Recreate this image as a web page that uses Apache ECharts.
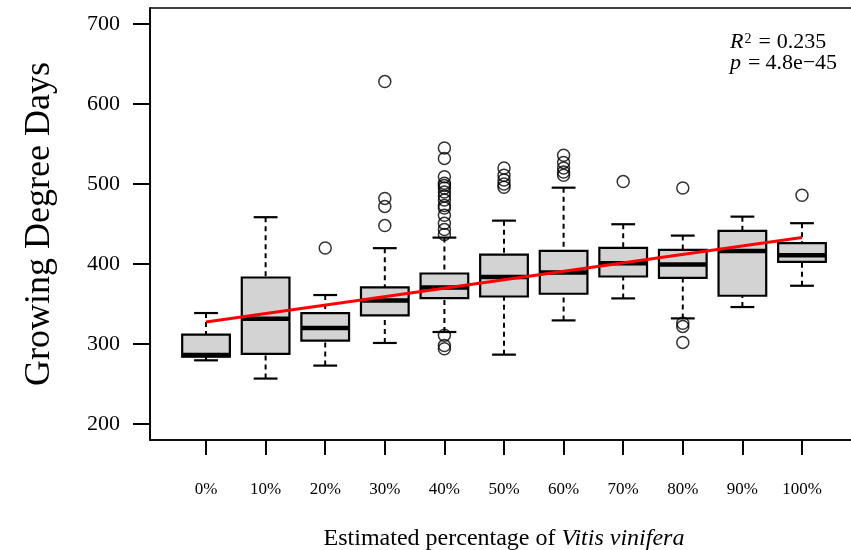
<!DOCTYPE html>
<html>
<head>
<meta charset="utf-8">
<script src="https://cdn.jsdelivr.net/npm/echarts@6/dist/echarts.min.js"></script>
<style>html,body{margin:0;padding:0;background:#fff;}#c{width:851px;height:550px;}</style>
</head>
<body>
<div id="c"></div>
<script>
// ---- data ----
const categories = ['0%','10%','20%','30%','40%','50%','60%','70%','80%','90%','100%'];
const whiskerLow  = [279.6, 256.8, 273.0, 301.3, 315.0, 286.7, 329.5, 357.0, 332.0, 346.2, 372.8];
const q1          = [284.2, 287.6, 304.2, 335.7, 357.4, 359.4, 362.8, 384.4, 382.7, 360.3, 402.7];
const median      = [286.3, 331.6, 320.0, 354.4, 370.7, 383.6, 389.4, 401.0, 399.4, 416.4, 411.0];
const q3          = [311.6, 383.1, 338.7, 370.7, 388.1, 411.8, 416.4, 420.2, 417.7, 441.4, 426.0];
const whiskerHigh = [338.7, 458.5, 361.2, 419.8, 433.0, 454.2, 495.4, 449.7, 435.5, 459.2, 451.0];
const outliers = [
  [],
  [],
  [420],
  [628, 482, 472, 448],
  [545, 532, 509, 501, 498, 495, 490, 485, 480, 473, 470, 461, 451, 443, 437, 311, 298, 294],
  [520, 511, 505, 500, 496],
  [536, 527, 520, 515, 511],
  [503],
  [495, 326, 322, 302],
  [],
  [486]
];
const fitStart = 327.5;   // fitted value at 0%
const fitEnd = 433.0;     // fitted value at 100%
const yTicks = [200, 300, 400, 500, 600, 700];
const annotR2 = '0.235';
const annotP = '4.8e\u221245';

// ---- build series data ----
const positions = categories.map((c, i) => i + 1);
const boxData = categories.map((c, i) => [positions[i], whiskerLow[i], q1[i], median[i], q3[i], whiskerHigh[i]]);
const outlierData = [];
outliers.forEach((arr, i) => arr.forEach(v => outlierData.push([positions[i], v])));
const fitData = [[positions[0], fitStart], [positions[positions.length - 1], fitEnd]];

const FONT = '"Liberation Serif", "DejaVu Serif", serif';

function renderBox(params, api) {
  const x = api.value(0);
  const pLo = api.coord([x, api.value(1)]);
  const pQ1 = api.coord([x, api.value(2)]);
  const pMed = api.coord([x, api.value(3)]);
  const pQ3 = api.coord([x, api.value(4)]);
  const pHi = api.coord([x, api.value(5)]);
  const bw = api.size([0.8, 0])[0];
  const cw = bw / 2;
  const cx = pMed[0];
  const dashStyle = { stroke: '#000', lineWidth: 2, lineDash: [5, 4] };
  const solid = { stroke: '#000', lineWidth: 2.2 };
  return {
    type: 'group',
    children: [
      { type: 'line', shape: { x1: cx, y1: pHi[1], x2: cx, y2: pQ3[1] }, style: dashStyle },
      { type: 'line', shape: { x1: cx, y1: pLo[1], x2: cx, y2: pQ1[1] }, style: dashStyle },
      { type: 'line', shape: { x1: cx - cw / 2, y1: pHi[1], x2: cx + cw / 2, y2: pHi[1] }, style: solid },
      { type: 'line', shape: { x1: cx - cw / 2, y1: pLo[1], x2: cx + cw / 2, y2: pLo[1] }, style: solid },
      { type: 'rect', shape: { x: cx - bw / 2, y: pQ3[1], width: bw, height: pQ1[1] - pQ3[1] },
        style: { fill: '#d3d3d3', stroke: '#000', lineWidth: 2.2 } },
      { type: 'line', shape: { x1: cx - bw / 2, y1: pMed[1], x2: cx + bw / 2, y2: pMed[1] },
        style: { stroke: '#000', lineWidth: 4.5 } }
    ]
  };
}

const chart = echarts.init(document.getElementById('c'), null, { renderer: 'canvas' });
chart.setOption({
  animation: false,
  backgroundColor: '#fff',
  title: {
    left: 725,
    top: 27,
    text: '{i|R}{sup|2}{eq|=}' + annotR2 + '\n{i|p}{eq2|=}' + annotP,
    textStyle: {
      fontFamily: FONT, fontSize: 22, fontWeight: 'normal', color: '#000', lineHeight: 21,
      rich: {
        i: { fontFamily: FONT, fontSize: 22, fontStyle: 'italic', color: '#000', lineHeight: 21 },
        sup: { fontFamily: FONT, fontSize: 14, color: '#000', verticalAlign: 'top', lineHeight: 21, padding: [0, 0, 0, 1] },
        eq: { fontFamily: FONT, fontSize: 22, color: '#000', padding: [0, 6, 0, 7], lineHeight: 21 },
        eq2: { fontFamily: FONT, fontSize: 22, color: '#000', padding: [0, 5, 0, 7], lineHeight: 21 }
      }
    }
  },
  grid: {
    left: 150, top: 8, width: 708, height: 432,
    outerBoundsMode: 'none',
    containLabel: false,
    show: true, borderColor: '#000', borderWidth: 1.6, backgroundColor: 'transparent'
  },
  xAxis: {
    type: 'value',
    min: 0.06, max: 11.94,
    splitLine: { show: false },
    axisLine: { show: true, lineStyle: { color: '#000', width: 1.6 } },
    axisTick: { show: true, customValues: positions, length: 15, lineStyle: { color: '#000', width: 2 } },
    axisLabel: {
      customValues: positions,
      formatter: v => categories[Math.round(v) - 1] || '',
      fontFamily: FONT, fontSize: 17, color: '#000', margin: 41
    },
    name: 'Estimated percentage of {i|Vitis vinifera}',
    nameLocation: 'middle',
    nameGap: 87,
    nameTextStyle: {
      fontFamily: FONT, fontSize: 24, color: '#000',
      rich: { i: { fontFamily: FONT, fontSize: 24, fontStyle: 'italic', color: '#000' } }
    }
  },
  yAxis: {
    type: 'value',
    min: 180, max: 720,
    splitLine: { show: false },
    axisLine: { show: true, lineStyle: { color: '#000', width: 1.6 } },
    axisTick: { show: true, customValues: yTicks, length: 17, lineStyle: { color: '#000', width: 2 } },
    axisLabel: { customValues: yTicks, fontFamily: FONT, fontSize: 22, color: '#000', margin: 30 },
    name: 'Growing Degree Days',
    nameLocation: 'middle',
    nameGap: 92,
    nameTextStyle: { fontFamily: FONT, fontSize: 36, color: '#000' }
  },
  series: [
    {
      type: 'custom',
      renderItem: renderBox,
      data: boxData,
      encode: { x: 0, y: [1, 2, 3, 4, 5] },
      z: 2
    },
    {
      type: 'scatter',
      data: outlierData,
      symbol: 'circle',
      symbolSize: 12,
      itemStyle: { color: 'rgba(0,0,0,0)', borderColor: '#000', borderWidth: 1.5 },
      z: 3
    },
    {
      type: 'line',
      data: fitData,
      symbol: 'none',
      lineStyle: { color: '#ff0000', width: 3 },
      z: 4
    }
  ]
});
</script>
</body>
</html>
